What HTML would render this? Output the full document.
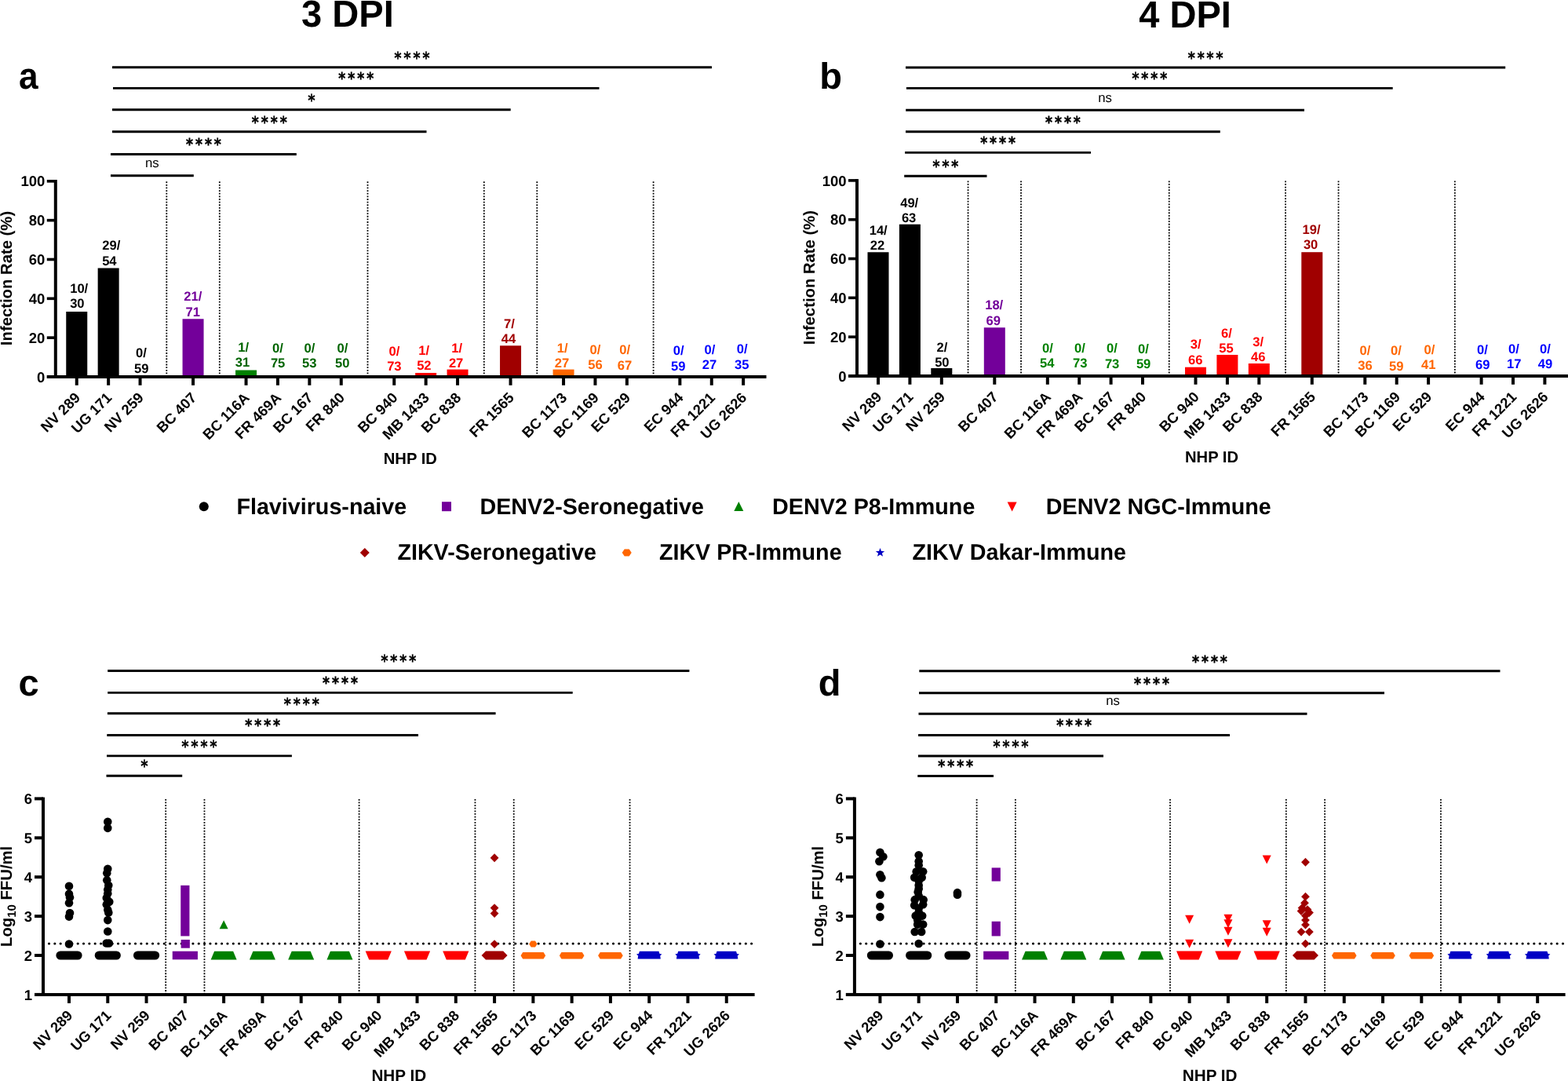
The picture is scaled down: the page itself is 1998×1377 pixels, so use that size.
<!DOCTYPE html>
<html><head><meta charset="utf-8"><style>
html,body{margin:0;padding:0;background:#fff;overflow:hidden;}
svg{display:block;}
text{font-family:'Liberation Sans', Arial, Helvetica, sans-serif;text-rendering:geometricPrecision;}
.ast{font-family:'DejaVu Sans Mono',monospace;}
</style></head><body>
<svg width="1998" height="1377" viewBox="0 0 1998 1377" font-family="'Liberation Sans', Arial, Helvetica, sans-serif" font-weight="700">
<rect width="1998" height="1377" fill="#fff"/>
<text x="0" y="0" font-size="48" text-anchor="middle" transform="translate(442.9 33.8) scale(0.98 1)">3 DPI</text>
<text x="0" y="0" font-size="48" text-anchor="middle" transform="translate(1510 34.9) scale(0.98 1)">4 DPI</text>
<text x="0" y="0" font-size="47.5" text-anchor="middle" transform="translate(36.4 113.3) scale(0.93 1)">a</text>
<text x="1058.5" y="113" font-size="47" text-anchor="middle">b</text>
<text x="36.5" y="886" font-size="47" text-anchor="middle">c</text>
<text x="1057" y="886" font-size="47" text-anchor="middle">d</text>
<line x1="143" y1="85.7" x2="907" y2="85.7" stroke="#000" stroke-width="2.9"/>
<text x="0" y="0" font-size="20.6" letter-spacing="1.74" text-anchor="middle" class="ast" stroke="#000" stroke-width="0.45" stroke-linejoin="round" transform="translate(525.75 80.5) scale(0.845 1)">****</text>
<line x1="144" y1="112.4" x2="763.5" y2="112.4" stroke="#000" stroke-width="2.9"/>
<text x="0" y="0" font-size="20.6" letter-spacing="1.74" text-anchor="middle" class="ast" stroke="#000" stroke-width="0.45" stroke-linejoin="round" transform="translate(454.5 107.2) scale(0.845 1)">****</text>
<line x1="143" y1="139.8" x2="650.7" y2="139.8" stroke="#000" stroke-width="2.9"/>
<text x="0" y="0" font-size="20.6" letter-spacing="1.74" text-anchor="middle" class="ast" stroke="#000" stroke-width="0.45" stroke-linejoin="round" transform="translate(397.6 134.6) scale(0.845 1)">*</text>
<line x1="143" y1="167.7" x2="543.5" y2="167.7" stroke="#000" stroke-width="2.9"/>
<text x="0" y="0" font-size="20.6" letter-spacing="1.74" text-anchor="middle" class="ast" stroke="#000" stroke-width="0.45" stroke-linejoin="round" transform="translate(344 162.5) scale(0.845 1)">****</text>
<line x1="141" y1="196.5" x2="377.8" y2="196.5" stroke="#000" stroke-width="2.9"/>
<text x="0" y="0" font-size="20.6" letter-spacing="1.74" text-anchor="middle" class="ast" stroke="#000" stroke-width="0.45" stroke-linejoin="round" transform="translate(260.15 191.3) scale(0.845 1)">****</text>
<line x1="141" y1="223.8" x2="246.8" y2="223.8" stroke="#000" stroke-width="2.9"/>
<text x="193.9" y="213" font-size="16.8" font-weight="400" text-anchor="middle">ns</text>
<line x1="1154" y1="86" x2="1918.2" y2="86" stroke="#000" stroke-width="2.9"/>
<text x="0" y="0" font-size="20.6" letter-spacing="1.74" text-anchor="middle" class="ast" stroke="#000" stroke-width="0.45" stroke-linejoin="round" transform="translate(1536.85 80.8) scale(0.845 1)">****</text>
<line x1="1154.9" y1="112.4" x2="1774.7" y2="112.4" stroke="#000" stroke-width="2.9"/>
<text x="0" y="0" font-size="20.6" letter-spacing="1.74" text-anchor="middle" class="ast" stroke="#000" stroke-width="0.45" stroke-linejoin="round" transform="translate(1465.55 107.2) scale(0.845 1)">****</text>
<line x1="1154.2" y1="140.3" x2="1662" y2="140.3" stroke="#000" stroke-width="2.9"/>
<text x="1408.1" y="129.5" font-size="16.8" font-weight="400" text-anchor="middle">ns</text>
<line x1="1154" y1="167.7" x2="1554.8" y2="167.7" stroke="#000" stroke-width="2.9"/>
<text x="0" y="0" font-size="20.6" letter-spacing="1.74" text-anchor="middle" class="ast" stroke="#000" stroke-width="0.45" stroke-linejoin="round" transform="translate(1355.15 162.5) scale(0.845 1)">****</text>
<line x1="1153.1" y1="194.4" x2="1390" y2="194.4" stroke="#000" stroke-width="2.9"/>
<text x="0" y="0" font-size="20.6" letter-spacing="1.74" text-anchor="middle" class="ast" stroke="#000" stroke-width="0.45" stroke-linejoin="round" transform="translate(1272.3 189.2) scale(0.845 1)">****</text>
<line x1="1152.2" y1="224.2" x2="1257.5" y2="224.2" stroke="#000" stroke-width="2.9"/>
<text x="0" y="0" font-size="20.6" letter-spacing="1.74" text-anchor="middle" class="ast" stroke="#000" stroke-width="0.45" stroke-linejoin="round" transform="translate(1205.6 219) scale(0.845 1)">***</text>
<line x1="137.2" y1="854.5" x2="878.4" y2="854.5" stroke="#000" stroke-width="2.9"/>
<text x="0" y="0" font-size="20.6" letter-spacing="1.74" text-anchor="middle" class="ast" stroke="#000" stroke-width="0.45" stroke-linejoin="round" transform="translate(508.55 849.3) scale(0.845 1)">****</text>
<line x1="137.2" y1="882.4" x2="729.7" y2="882.4" stroke="#000" stroke-width="2.9"/>
<text x="0" y="0" font-size="20.6" letter-spacing="1.74" text-anchor="middle" class="ast" stroke="#000" stroke-width="0.45" stroke-linejoin="round" transform="translate(434.2 877.2) scale(0.845 1)">****</text>
<line x1="136.9" y1="908.8" x2="631.6" y2="908.8" stroke="#000" stroke-width="2.9"/>
<text x="0" y="0" font-size="20.6" letter-spacing="1.74" text-anchor="middle" class="ast" stroke="#000" stroke-width="0.45" stroke-linejoin="round" transform="translate(385 903.6) scale(0.845 1)">****</text>
<line x1="136.3" y1="936.5" x2="533" y2="936.5" stroke="#000" stroke-width="2.9"/>
<text x="0" y="0" font-size="20.6" letter-spacing="1.74" text-anchor="middle" class="ast" stroke="#000" stroke-width="0.45" stroke-linejoin="round" transform="translate(335.4 931.3) scale(0.845 1)">****</text>
<line x1="136" y1="962.9" x2="371.9" y2="962.9" stroke="#000" stroke-width="2.9"/>
<text x="0" y="0" font-size="20.6" letter-spacing="1.74" text-anchor="middle" class="ast" stroke="#000" stroke-width="0.45" stroke-linejoin="round" transform="translate(254.7 957.7) scale(0.845 1)">****</text>
<line x1="135.5" y1="988.3" x2="232.2" y2="988.3" stroke="#000" stroke-width="2.9"/>
<text x="0" y="0" font-size="20.6" letter-spacing="1.74" text-anchor="middle" class="ast" stroke="#000" stroke-width="0.45" stroke-linejoin="round" transform="translate(184.6 983.1) scale(0.845 1)">*</text>
<line x1="1171.3" y1="854.8" x2="1911.5" y2="854.8" stroke="#000" stroke-width="2.9"/>
<text x="0" y="0" font-size="20.6" letter-spacing="1.74" text-anchor="middle" class="ast" stroke="#000" stroke-width="0.45" stroke-linejoin="round" transform="translate(1542.15 849.6) scale(0.845 1)">****</text>
<line x1="1171" y1="882.7" x2="1764" y2="882.7" stroke="#000" stroke-width="2.9"/>
<text x="0" y="0" font-size="20.6" letter-spacing="1.74" text-anchor="middle" class="ast" stroke="#000" stroke-width="0.45" stroke-linejoin="round" transform="translate(1468.25 877.5) scale(0.845 1)">****</text>
<line x1="1170.5" y1="909.2" x2="1665.5" y2="909.2" stroke="#000" stroke-width="2.9"/>
<text x="1418" y="898.4" font-size="16.8" font-weight="400" text-anchor="middle">ns</text>
<line x1="1170.1" y1="936.5" x2="1567" y2="936.5" stroke="#000" stroke-width="2.9"/>
<text x="0" y="0" font-size="20.6" letter-spacing="1.74" text-anchor="middle" class="ast" stroke="#000" stroke-width="0.45" stroke-linejoin="round" transform="translate(1369.3 931.3) scale(0.845 1)">****</text>
<line x1="1169.9" y1="963" x2="1406" y2="963" stroke="#000" stroke-width="2.9"/>
<text x="0" y="0" font-size="20.6" letter-spacing="1.74" text-anchor="middle" class="ast" stroke="#000" stroke-width="0.45" stroke-linejoin="round" transform="translate(1288.7 957.8) scale(0.845 1)">****</text>
<line x1="1169.3" y1="988.5" x2="1266" y2="988.5" stroke="#000" stroke-width="2.9"/>
<text x="0" y="0" font-size="20.6" letter-spacing="1.74" text-anchor="middle" class="ast" stroke="#000" stroke-width="0.45" stroke-linejoin="round" transform="translate(1218.4 983.3) scale(0.845 1)">****</text>
<line x1="212.3" y1="231.3" x2="212.3" y2="478" stroke="#000" stroke-width="1.8" stroke-dasharray="1.8 1.83"/>
<line x1="279.8" y1="231.3" x2="279.8" y2="478" stroke="#000" stroke-width="1.8" stroke-dasharray="1.8 1.83"/>
<line x1="468.5" y1="231.3" x2="468.5" y2="478" stroke="#000" stroke-width="1.8" stroke-dasharray="1.8 1.83"/>
<line x1="616.8" y1="231.3" x2="616.8" y2="478" stroke="#000" stroke-width="1.8" stroke-dasharray="1.8 1.83"/>
<line x1="684.3" y1="231.3" x2="684.3" y2="478" stroke="#000" stroke-width="1.8" stroke-dasharray="1.8 1.83"/>
<line x1="832.6" y1="231.3" x2="832.6" y2="478" stroke="#000" stroke-width="1.8" stroke-dasharray="1.8 1.83"/>
<rect x="84.25" y="397" width="27" height="83" fill="#000000"/>
<rect x="124.65" y="341.5" width="27" height="138.5" fill="#000000"/>
<rect x="232.55" y="406.25" width="27" height="73.75" fill="#73009a"/>
<rect x="300.05" y="471.5" width="27" height="8.5" fill="#008000"/>
<rect x="529.15" y="475" width="27" height="5" fill="#ff0000"/>
<rect x="569.55" y="470.6" width="27" height="9.4" fill="#ff0000"/>
<rect x="637.05" y="440.3" width="27" height="39.7" fill="#a00000"/>
<rect x="704.55" y="470.6" width="27" height="9.4" fill="#ff6600"/>
<line x1="70.8" y1="229" x2="70.8" y2="480" stroke="#000" stroke-width="4"/>
<line x1="59.8" y1="480" x2="976.5" y2="480" stroke="#000" stroke-width="3.9"/>
<line x1="59.8" y1="480" x2="70.8" y2="480" stroke="#000" stroke-width="3.6"/>
<text x="57.3" y="486.6" font-size="18.5" text-anchor="end">0</text>
<line x1="59.8" y1="430.16" x2="70.8" y2="430.16" stroke="#000" stroke-width="3.6"/>
<text x="57.3" y="436.76" font-size="18.5" text-anchor="end">20</text>
<line x1="59.8" y1="380.32" x2="70.8" y2="380.32" stroke="#000" stroke-width="3.6"/>
<text x="57.3" y="386.92" font-size="18.5" text-anchor="end">40</text>
<line x1="59.8" y1="330.48" x2="70.8" y2="330.48" stroke="#000" stroke-width="3.6"/>
<text x="57.3" y="337.08" font-size="18.5" text-anchor="end">60</text>
<line x1="59.8" y1="280.64" x2="70.8" y2="280.64" stroke="#000" stroke-width="3.6"/>
<text x="57.3" y="287.24" font-size="18.5" text-anchor="end">80</text>
<line x1="59.8" y1="230.8" x2="70.8" y2="230.8" stroke="#000" stroke-width="3.6"/>
<text x="57.3" y="237.4" font-size="18.5" text-anchor="end">100</text>
<line x1="97.75" y1="480" x2="97.75" y2="490.8" stroke="#000" stroke-width="4"/>
<text x="103.25" y="507.8" font-size="18.5" text-anchor="end" transform="rotate(-45 103.25 507.8)">NV 289</text>
<line x1="138.15" y1="480" x2="138.15" y2="490.8" stroke="#000" stroke-width="4"/>
<text x="143.65" y="507.8" font-size="18.5" text-anchor="end" transform="rotate(-45 143.65 507.8)">UG 171</text>
<line x1="178.55" y1="480" x2="178.55" y2="490.8" stroke="#000" stroke-width="4"/>
<text x="184.05" y="507.8" font-size="18.5" text-anchor="end" transform="rotate(-45 184.05 507.8)">NV 259</text>
<line x1="246.05" y1="480" x2="246.05" y2="490.8" stroke="#000" stroke-width="4"/>
<text x="251.55" y="507.8" font-size="18.5" text-anchor="end" transform="rotate(-45 251.55 507.8)">BC 407</text>
<line x1="313.55" y1="480" x2="313.55" y2="490.8" stroke="#000" stroke-width="4"/>
<text x="319.05" y="507.8" font-size="18.5" text-anchor="end" transform="rotate(-45 319.05 507.8)">BC 116A</text>
<line x1="353.95" y1="480" x2="353.95" y2="490.8" stroke="#000" stroke-width="4"/>
<text x="359.45" y="507.8" font-size="18.5" text-anchor="end" transform="rotate(-45 359.45 507.8)">FR 469A</text>
<line x1="394.35" y1="480" x2="394.35" y2="490.8" stroke="#000" stroke-width="4"/>
<text x="399.85" y="507.8" font-size="18.5" text-anchor="end" transform="rotate(-45 399.85 507.8)">BC 167</text>
<line x1="434.75" y1="480" x2="434.75" y2="490.8" stroke="#000" stroke-width="4"/>
<text x="440.25" y="507.8" font-size="18.5" text-anchor="end" transform="rotate(-45 440.25 507.8)">FR 840</text>
<line x1="502.25" y1="480" x2="502.25" y2="490.8" stroke="#000" stroke-width="4"/>
<text x="507.75" y="507.8" font-size="18.5" text-anchor="end" transform="rotate(-45 507.75 507.8)">BC 940</text>
<line x1="542.65" y1="480" x2="542.65" y2="490.8" stroke="#000" stroke-width="4"/>
<text x="548.15" y="507.8" font-size="18.5" text-anchor="end" transform="rotate(-45 548.15 507.8)">MB 1433</text>
<line x1="583.05" y1="480" x2="583.05" y2="490.8" stroke="#000" stroke-width="4"/>
<text x="588.55" y="507.8" font-size="18.5" text-anchor="end" transform="rotate(-45 588.55 507.8)">BC 838</text>
<line x1="650.55" y1="480" x2="650.55" y2="490.8" stroke="#000" stroke-width="4"/>
<text x="656.05" y="507.8" font-size="18.5" text-anchor="end" transform="rotate(-45 656.05 507.8)">FR 1565</text>
<line x1="718.05" y1="480" x2="718.05" y2="490.8" stroke="#000" stroke-width="4"/>
<text x="723.55" y="507.8" font-size="18.5" text-anchor="end" transform="rotate(-45 723.55 507.8)">BC 1173</text>
<line x1="758.45" y1="480" x2="758.45" y2="490.8" stroke="#000" stroke-width="4"/>
<text x="763.95" y="507.8" font-size="18.5" text-anchor="end" transform="rotate(-45 763.95 507.8)">BC 1169</text>
<line x1="798.85" y1="480" x2="798.85" y2="490.8" stroke="#000" stroke-width="4"/>
<text x="804.35" y="507.8" font-size="18.5" text-anchor="end" transform="rotate(-45 804.35 507.8)">EC 529</text>
<line x1="866.35" y1="480" x2="866.35" y2="490.8" stroke="#000" stroke-width="4"/>
<text x="871.85" y="507.8" font-size="18.5" text-anchor="end" transform="rotate(-45 871.85 507.8)">EC 944</text>
<line x1="906.75" y1="480" x2="906.75" y2="490.8" stroke="#000" stroke-width="4"/>
<text x="912.25" y="507.8" font-size="18.5" text-anchor="end" transform="rotate(-45 912.25 507.8)">FR 1221</text>
<line x1="947.15" y1="480" x2="947.15" y2="490.8" stroke="#000" stroke-width="4"/>
<text x="952.65" y="507.8" font-size="18.5" text-anchor="end" transform="rotate(-45 952.65 507.8)">UG 2626</text>
<text x="100.7" y="372.5" font-size="16.6" text-anchor="middle" fill="#000000">10/</text>
<text x="98.37" y="391.8" font-size="16.6" text-anchor="middle" fill="#000000">30</text>
<text x="141.8" y="318.4" font-size="16.6" text-anchor="middle" fill="#000000">29/</text>
<text x="139.37" y="337.7" font-size="16.6" text-anchor="middle" fill="#000000">54</text>
<text x="180.04" y="455.3" font-size="16.6" text-anchor="middle" fill="#000000">0/</text>
<text x="180.32" y="474.6" font-size="16.6" text-anchor="middle" fill="#000000">59</text>
<text x="245.85" y="383.2" font-size="16.6" text-anchor="middle" fill="#73009a">21/</text>
<text x="245.67" y="402.5" font-size="16.6" text-anchor="middle" fill="#73009a">71</text>
<text x="310.19" y="447.9" font-size="16.6" text-anchor="middle" fill="#006400">1/</text>
<text x="309.02" y="467.2" font-size="16.6" text-anchor="middle" fill="#006400">31</text>
<text x="353.99" y="448.7" font-size="16.6" text-anchor="middle" fill="#006400">0/</text>
<text x="354.12" y="468" font-size="16.6" text-anchor="middle" fill="#006400">75</text>
<text x="394.39" y="448.7" font-size="16.6" text-anchor="middle" fill="#006400">0/</text>
<text x="394.32" y="468" font-size="16.6" text-anchor="middle" fill="#006400">53</text>
<text x="436.39" y="448.7" font-size="16.6" text-anchor="middle" fill="#006400">0/</text>
<text x="436.22" y="468" font-size="16.6" text-anchor="middle" fill="#006400">50</text>
<text x="502.54" y="452.7" font-size="16.6" text-anchor="middle" fill="#ff0000">0/</text>
<text x="502.37" y="472" font-size="16.6" text-anchor="middle" fill="#ff0000">73</text>
<text x="540.14" y="451.7" font-size="16.6" text-anchor="middle" fill="#ff0000">1/</text>
<text x="540.37" y="471" font-size="16.6" text-anchor="middle" fill="#ff0000">52</text>
<text x="582.19" y="448.5" font-size="16.6" text-anchor="middle" fill="#ff0000">1/</text>
<text x="581.12" y="467.8" font-size="16.6" text-anchor="middle" fill="#ff0000">27</text>
<text x="648.94" y="417.5" font-size="16.6" text-anchor="middle" fill="#a00000">7/</text>
<text x="647.97" y="436.8" font-size="16.6" text-anchor="middle" fill="#a00000">44</text>
<text x="716.59" y="449" font-size="16.6" text-anchor="middle" fill="#ff6600">1/</text>
<text x="715.97" y="468.3" font-size="16.6" text-anchor="middle" fill="#ff6600">27</text>
<text x="758.54" y="451" font-size="16.6" text-anchor="middle" fill="#ff6600">0/</text>
<text x="758.42" y="470.3" font-size="16.6" text-anchor="middle" fill="#ff6600">56</text>
<text x="796.14" y="451.3" font-size="16.6" text-anchor="middle" fill="#ff6600">0/</text>
<text x="796.07" y="470.6" font-size="16.6" text-anchor="middle" fill="#ff6600">67</text>
<text x="864.64" y="452.2" font-size="16.6" text-anchor="middle" fill="#0000ff">0/</text>
<text x="864.32" y="471.5" font-size="16.6" text-anchor="middle" fill="#0000ff">59</text>
<text x="904.49" y="451" font-size="16.6" text-anchor="middle" fill="#0000ff">0/</text>
<text x="904.02" y="470.3" font-size="16.6" text-anchor="middle" fill="#0000ff">27</text>
<text x="945.79" y="450.3" font-size="16.6" text-anchor="middle" fill="#0000ff">0/</text>
<text x="945.17" y="469.6" font-size="16.6" text-anchor="middle" fill="#0000ff">35</text>
<text x="522.8" y="591" font-size="20.2" text-anchor="middle">NHP ID</text>
<text x="14.9" y="354.5" font-size="20.3" text-anchor="middle" transform="rotate(-90 14.9 354.5)">Infection Rate (%)</text>
<line x1="1233.55" y1="230.4" x2="1233.55" y2="477" stroke="#000" stroke-width="1.8" stroke-dasharray="1.8 1.83"/>
<line x1="1301.05" y1="230.4" x2="1301.05" y2="477" stroke="#000" stroke-width="1.8" stroke-dasharray="1.8 1.83"/>
<line x1="1489.75" y1="230.4" x2="1489.75" y2="477" stroke="#000" stroke-width="1.8" stroke-dasharray="1.8 1.83"/>
<line x1="1638.05" y1="230.4" x2="1638.05" y2="477" stroke="#000" stroke-width="1.8" stroke-dasharray="1.8 1.83"/>
<line x1="1705.55" y1="230.4" x2="1705.55" y2="477" stroke="#000" stroke-width="1.8" stroke-dasharray="1.8 1.83"/>
<line x1="1853.85" y1="230.4" x2="1853.85" y2="477" stroke="#000" stroke-width="1.8" stroke-dasharray="1.8 1.83"/>
<rect x="1105.5" y="321.25" width="27" height="157.75" fill="#000000"/>
<rect x="1145.9" y="285.75" width="27" height="193.25" fill="#000000"/>
<rect x="1186.3" y="469" width="27" height="10" fill="#000000"/>
<rect x="1253.8" y="417.25" width="27" height="61.75" fill="#73009a"/>
<rect x="1510" y="467.7" width="27" height="11.3" fill="#ff0000"/>
<rect x="1550.4" y="452" width="27" height="27" fill="#ff0000"/>
<rect x="1590.8" y="463" width="27" height="16" fill="#ff0000"/>
<rect x="1658.3" y="321.2" width="27" height="157.8" fill="#a00000"/>
<line x1="1092" y1="228.1" x2="1092" y2="479" stroke="#000" stroke-width="4"/>
<line x1="1081" y1="479" x2="1998" y2="479" stroke="#000" stroke-width="3.9"/>
<line x1="1081" y1="479" x2="1092" y2="479" stroke="#000" stroke-width="3.6"/>
<text x="1078.5" y="485.6" font-size="18.5" text-anchor="end">0</text>
<line x1="1081" y1="429.18" x2="1092" y2="429.18" stroke="#000" stroke-width="3.6"/>
<text x="1078.5" y="435.78" font-size="18.5" text-anchor="end">20</text>
<line x1="1081" y1="379.36" x2="1092" y2="379.36" stroke="#000" stroke-width="3.6"/>
<text x="1078.5" y="385.96" font-size="18.5" text-anchor="end">40</text>
<line x1="1081" y1="329.54" x2="1092" y2="329.54" stroke="#000" stroke-width="3.6"/>
<text x="1078.5" y="336.14" font-size="18.5" text-anchor="end">60</text>
<line x1="1081" y1="279.72" x2="1092" y2="279.72" stroke="#000" stroke-width="3.6"/>
<text x="1078.5" y="286.32" font-size="18.5" text-anchor="end">80</text>
<line x1="1081" y1="229.9" x2="1092" y2="229.9" stroke="#000" stroke-width="3.6"/>
<text x="1078.5" y="236.5" font-size="18.5" text-anchor="end">100</text>
<line x1="1119" y1="479" x2="1119" y2="489.8" stroke="#000" stroke-width="4"/>
<text x="1124.5" y="506.8" font-size="18.5" text-anchor="end" transform="rotate(-45 1124.5 506.8)">NV 289</text>
<line x1="1159.4" y1="479" x2="1159.4" y2="489.8" stroke="#000" stroke-width="4"/>
<text x="1164.9" y="506.8" font-size="18.5" text-anchor="end" transform="rotate(-45 1164.9 506.8)">UG 171</text>
<line x1="1199.8" y1="479" x2="1199.8" y2="489.8" stroke="#000" stroke-width="4"/>
<text x="1205.3" y="506.8" font-size="18.5" text-anchor="end" transform="rotate(-45 1205.3 506.8)">NV 259</text>
<line x1="1267.3" y1="479" x2="1267.3" y2="489.8" stroke="#000" stroke-width="4"/>
<text x="1272.8" y="506.8" font-size="18.5" text-anchor="end" transform="rotate(-45 1272.8 506.8)">BC 407</text>
<line x1="1334.8" y1="479" x2="1334.8" y2="489.8" stroke="#000" stroke-width="4"/>
<text x="1340.3" y="506.8" font-size="18.5" text-anchor="end" transform="rotate(-45 1340.3 506.8)">BC 116A</text>
<line x1="1375.2" y1="479" x2="1375.2" y2="489.8" stroke="#000" stroke-width="4"/>
<text x="1380.7" y="506.8" font-size="18.5" text-anchor="end" transform="rotate(-45 1380.7 506.8)">FR 469A</text>
<line x1="1415.6" y1="479" x2="1415.6" y2="489.8" stroke="#000" stroke-width="4"/>
<text x="1421.1" y="506.8" font-size="18.5" text-anchor="end" transform="rotate(-45 1421.1 506.8)">BC 167</text>
<line x1="1456" y1="479" x2="1456" y2="489.8" stroke="#000" stroke-width="4"/>
<text x="1461.5" y="506.8" font-size="18.5" text-anchor="end" transform="rotate(-45 1461.5 506.8)">FR 840</text>
<line x1="1523.5" y1="479" x2="1523.5" y2="489.8" stroke="#000" stroke-width="4"/>
<text x="1529" y="506.8" font-size="18.5" text-anchor="end" transform="rotate(-45 1529 506.8)">BC 940</text>
<line x1="1563.9" y1="479" x2="1563.9" y2="489.8" stroke="#000" stroke-width="4"/>
<text x="1569.4" y="506.8" font-size="18.5" text-anchor="end" transform="rotate(-45 1569.4 506.8)">MB 1433</text>
<line x1="1604.3" y1="479" x2="1604.3" y2="489.8" stroke="#000" stroke-width="4"/>
<text x="1609.8" y="506.8" font-size="18.5" text-anchor="end" transform="rotate(-45 1609.8 506.8)">BC 838</text>
<line x1="1671.8" y1="479" x2="1671.8" y2="489.8" stroke="#000" stroke-width="4"/>
<text x="1677.3" y="506.8" font-size="18.5" text-anchor="end" transform="rotate(-45 1677.3 506.8)">FR 1565</text>
<line x1="1739.3" y1="479" x2="1739.3" y2="489.8" stroke="#000" stroke-width="4"/>
<text x="1744.8" y="506.8" font-size="18.5" text-anchor="end" transform="rotate(-45 1744.8 506.8)">BC 1173</text>
<line x1="1779.7" y1="479" x2="1779.7" y2="489.8" stroke="#000" stroke-width="4"/>
<text x="1785.2" y="506.8" font-size="18.5" text-anchor="end" transform="rotate(-45 1785.2 506.8)">BC 1169</text>
<line x1="1820.1" y1="479" x2="1820.1" y2="489.8" stroke="#000" stroke-width="4"/>
<text x="1825.6" y="506.8" font-size="18.5" text-anchor="end" transform="rotate(-45 1825.6 506.8)">EC 529</text>
<line x1="1887.6" y1="479" x2="1887.6" y2="489.8" stroke="#000" stroke-width="4"/>
<text x="1893.1" y="506.8" font-size="18.5" text-anchor="end" transform="rotate(-45 1893.1 506.8)">EC 944</text>
<line x1="1928" y1="479" x2="1928" y2="489.8" stroke="#000" stroke-width="4"/>
<text x="1933.5" y="506.8" font-size="18.5" text-anchor="end" transform="rotate(-45 1933.5 506.8)">FR 1221</text>
<line x1="1968.4" y1="479" x2="1968.4" y2="489.8" stroke="#000" stroke-width="4"/>
<text x="1973.9" y="506.8" font-size="18.5" text-anchor="end" transform="rotate(-45 1973.9 506.8)">UG 2626</text>
<text x="1119.2" y="298.7" font-size="16.6" text-anchor="middle" fill="#000000">14/</text>
<text x="1118.02" y="318" font-size="16.6" text-anchor="middle" fill="#000000">22</text>
<text x="1158.7" y="263.6" font-size="16.6" text-anchor="middle" fill="#000000">49/</text>
<text x="1158.12" y="282.9" font-size="16.6" text-anchor="middle" fill="#000000">63</text>
<text x="1200.44" y="448" font-size="16.6" text-anchor="middle" fill="#000000">2/</text>
<text x="1200.37" y="467.3" font-size="16.6" text-anchor="middle" fill="#000000">50</text>
<text x="1266.7" y="394.3" font-size="16.6" text-anchor="middle" fill="#73009a">18/</text>
<text x="1265.82" y="413.6" font-size="16.6" text-anchor="middle" fill="#73009a">69</text>
<text x="1334.94" y="448.9" font-size="16.6" text-anchor="middle" fill="#008000">0/</text>
<text x="1334.22" y="468.2" font-size="16.6" text-anchor="middle" fill="#008000">54</text>
<text x="1376.04" y="449.1" font-size="16.6" text-anchor="middle" fill="#008000">0/</text>
<text x="1376.27" y="468.4" font-size="16.6" text-anchor="middle" fill="#008000">73</text>
<text x="1416.89" y="449.3" font-size="16.6" text-anchor="middle" fill="#008000">0/</text>
<text x="1417.12" y="468.6" font-size="16.6" text-anchor="middle" fill="#008000">73</text>
<text x="1456.89" y="450.1" font-size="16.6" text-anchor="middle" fill="#008000">0/</text>
<text x="1457.12" y="469.4" font-size="16.6" text-anchor="middle" fill="#008000">59</text>
<text x="1523.79" y="444.2" font-size="16.6" text-anchor="middle" fill="#ff0000">3/</text>
<text x="1523.32" y="463.5" font-size="16.6" text-anchor="middle" fill="#ff0000">66</text>
<text x="1562.94" y="429.9" font-size="16.6" text-anchor="middle" fill="#ff0000">6/</text>
<text x="1562.52" y="449.2" font-size="16.6" text-anchor="middle" fill="#ff0000">55</text>
<text x="1603.19" y="441" font-size="16.6" text-anchor="middle" fill="#ff0000">3/</text>
<text x="1603.17" y="460.3" font-size="16.6" text-anchor="middle" fill="#ff0000">46</text>
<text x="1671.05" y="297.9" font-size="16.6" text-anchor="middle" fill="#a00000">19/</text>
<text x="1670.12" y="317.2" font-size="16.6" text-anchor="middle" fill="#a00000">30</text>
<text x="1739.49" y="451.9" font-size="16.6" text-anchor="middle" fill="#ff6600">0/</text>
<text x="1739.57" y="471.2" font-size="16.6" text-anchor="middle" fill="#ff6600">36</text>
<text x="1778.99" y="452.4" font-size="16.6" text-anchor="middle" fill="#ff6600">0/</text>
<text x="1779.32" y="471.7" font-size="16.6" text-anchor="middle" fill="#ff6600">59</text>
<text x="1821.44" y="451.1" font-size="16.6" text-anchor="middle" fill="#ff6600">0/</text>
<text x="1820.32" y="470.4" font-size="16.6" text-anchor="middle" fill="#ff6600">41</text>
<text x="1888.99" y="451" font-size="16.6" text-anchor="middle" fill="#0000ff">0/</text>
<text x="1889.32" y="470.3" font-size="16.6" text-anchor="middle" fill="#0000ff">69</text>
<text x="1928.99" y="449.8" font-size="16.6" text-anchor="middle" fill="#0000ff">0/</text>
<text x="1929.32" y="469.1" font-size="16.6" text-anchor="middle" fill="#0000ff">17</text>
<text x="1968.99" y="449.8" font-size="16.6" text-anchor="middle" fill="#0000ff">0/</text>
<text x="1969.02" y="469.1" font-size="16.6" text-anchor="middle" fill="#0000ff">49</text>
<text x="1544" y="589" font-size="20.2" text-anchor="middle">NHP ID</text>
<text x="1037.8" y="353.55" font-size="20.3" text-anchor="middle" transform="rotate(-90 1037.8 353.55)">Infection Rate (%)</text>
<circle cx="259.8" cy="645.2" r="6" fill="#000000"/>
<text x="301.4" y="654.8" font-size="28.7" text-anchor="start">Flavivirus-naive</text>
<rect x="563" y="639.2" width="12" height="12" fill="#73009a"/>
<text x="611.5" y="654.8" font-size="28.7" text-anchor="start">DENV2-Seronegative</text>
<polygon points="941.3,639 947.3,650.9 935.3,650.9" fill="#008000"/>
<text x="984.1" y="654.8" font-size="28.7" text-anchor="start">DENV2 P8-Immune</text>
<polygon points="1289.6,651.4 1295.6,639.5 1283.6,639.5" fill="#ff0000"/>
<text x="1332.8" y="654.8" font-size="28.7" text-anchor="start">DENV2 NGC-Immune</text>
<polygon points="464.8,698 470.8,704 464.8,710 458.8,704" fill="#a00000"/>
<text x="506.4" y="713" font-size="28.7" text-anchor="start">ZIKV-Seronegative</text>
<polygon points="804.7,704 801.7,708.52 795.7,708.52 792.7,704 795.7,699.48 801.7,699.48" fill="#ff6600"/>
<text x="839.9" y="713" font-size="28.7" text-anchor="start">ZIKV PR-Immune</text>
<polygon points="1121.5,698 1122.98,701.96 1127.21,702.15 1123.9,704.78 1125.03,708.85 1121.5,706.52 1117.97,708.85 1119.1,704.78 1115.79,702.15 1120.02,701.96" fill="#0000c4"/>
<text x="1162.4" y="713" font-size="28.7" text-anchor="start">ZIKV Dakar-Immune</text>
<line x1="211.2" y1="1017.9" x2="211.2" y2="1264.9" stroke="#000" stroke-width="1.8" stroke-dasharray="1.8 1.83"/>
<line x1="260.48" y1="1017.9" x2="260.48" y2="1264.9" stroke="#000" stroke-width="1.8" stroke-dasharray="1.8 1.83"/>
<line x1="457.6" y1="1017.9" x2="457.6" y2="1264.9" stroke="#000" stroke-width="1.8" stroke-dasharray="1.8 1.83"/>
<line x1="605.44" y1="1017.9" x2="605.44" y2="1264.9" stroke="#000" stroke-width="1.8" stroke-dasharray="1.8 1.83"/>
<line x1="654.72" y1="1017.9" x2="654.72" y2="1264.9" stroke="#000" stroke-width="1.8" stroke-dasharray="1.8 1.83"/>
<line x1="802.56" y1="1017.9" x2="802.56" y2="1264.9" stroke="#000" stroke-width="1.8" stroke-dasharray="1.8 1.83"/>
<line x1="62.5" y1="1201.98" x2="958.6" y2="1201.98" stroke="#000" stroke-width="3.2" stroke-dasharray="0 7.337" stroke-linecap="round"/>
<rect x="71.4" y="1211.5" width="33.2" height="11" rx="5.5" fill="#000000"/>
<circle cx="88" cy="1128.68" r="5.3" fill="#000000"/>
<circle cx="88" cy="1138.66" r="5.3" fill="#000000"/>
<circle cx="89" cy="1143.15" r="5.3" fill="#000000"/>
<circle cx="88" cy="1150.13" r="5.3" fill="#000000"/>
<circle cx="89" cy="1163.11" r="5.3" fill="#000000"/>
<circle cx="88" cy="1167.6" r="5.3" fill="#000000"/>
<circle cx="88" cy="1202.53" r="5.3" fill="#000000"/>
<rect x="120.68" y="1211.5" width="33.2" height="11" rx="5.5" fill="#000000"/>
<circle cx="137.28" cy="1046.84" r="5.3" fill="#000000"/>
<circle cx="137.28" cy="1054.83" r="5.3" fill="#000000"/>
<circle cx="137.28" cy="1106.72" r="5.3" fill="#000000"/>
<circle cx="136.28" cy="1112.21" r="5.3" fill="#000000"/>
<circle cx="136.28" cy="1121.19" r="5.3" fill="#000000"/>
<circle cx="138.28" cy="1127.68" r="5.3" fill="#000000"/>
<circle cx="137.28" cy="1133.17" r="5.3" fill="#000000"/>
<circle cx="137.28" cy="1138.16" r="5.3" fill="#000000"/>
<circle cx="135.78" cy="1143.65" r="5.3" fill="#000000"/>
<circle cx="139.28" cy="1148.64" r="5.3" fill="#000000"/>
<circle cx="135.78" cy="1152.13" r="5.3" fill="#000000"/>
<circle cx="137.28" cy="1159.12" r="5.3" fill="#000000"/>
<circle cx="138.28" cy="1162.61" r="5.3" fill="#000000"/>
<circle cx="137.28" cy="1172.09" r="5.3" fill="#000000"/>
<circle cx="137.28" cy="1186.56" r="5.3" fill="#000000"/>
<circle cx="135.68" cy="1201.53" r="5.3" fill="#000000"/>
<circle cx="138.88" cy="1201.53" r="5.3" fill="#000000"/>
<rect x="169.96" y="1211.5" width="33.2" height="11" rx="5.5" fill="#000000"/>
<rect x="219.74" y="1211.7" width="32.2" height="10.6" fill="#73009a"/>
<rect x="230.24" y="1127.82" width="11.2" height="64.59" fill="#73009a"/>
<rect x="230.64" y="1196.98" width="11.2" height="10.7" fill="#73009a"/>
<polygon points="273.12,1211.7 297.12,1211.7 301.62,1222.4 268.62,1222.4" fill="#008000"/>
<polygon points="285.12,1172.35 290.62,1183.3 279.62,1183.3" fill="#008000"/>
<polygon points="322.4,1211.7 346.4,1211.7 350.9,1222.4 317.9,1222.4" fill="#008000"/>
<polygon points="371.68,1211.7 395.68,1211.7 400.18,1222.4 367.18,1222.4" fill="#008000"/>
<polygon points="420.96,1211.7 444.96,1211.7 449.46,1222.4 416.46,1222.4" fill="#008000"/>
<polygon points="465.64,1211.6 498.84,1211.6 494.24,1222.4 470.24,1222.4" fill="#ff0000"/>
<polygon points="514.92,1211.6 548.12,1211.6 543.52,1222.4 519.52,1222.4" fill="#ff0000"/>
<polygon points="564.2,1211.6 597.4,1211.6 592.8,1222.4 568.8,1222.4" fill="#ff0000"/>
<polygon points="613.58,1217 618.98,1211.6 641.18,1211.6 646.58,1217 641.18,1222.4 618.98,1222.4" fill="#a00000"/>
<polygon points="630.08,1087.35 635.48,1092.75 630.08,1098.15 624.68,1092.75" fill="#a00000"/>
<polygon points="630.08,1151.22 635.48,1156.62 630.08,1162.02 624.68,1156.62" fill="#a00000"/>
<polygon points="630.08,1158.21 635.48,1163.61 630.08,1169.01 624.68,1163.61" fill="#a00000"/>
<polygon points="630.08,1197.13 635.48,1202.53 630.08,1207.93 624.68,1202.53" fill="#a00000"/>
<polygon points="663.56,1217.3 666.16,1212.9 692.56,1212.9 695.16,1217.3 692.56,1221.6 666.16,1221.6" fill="#ff6600"/>
<polygon points="684.56,1202.53 681.96,1206.45 676.76,1206.45 674.16,1202.53 676.76,1198.61 681.96,1198.61" fill="#ff6600"/>
<polygon points="712.84,1217.3 715.44,1212.9 741.84,1212.9 744.44,1217.3 741.84,1221.6 715.44,1221.6" fill="#ff6600"/>
<polygon points="762.12,1217.3 764.72,1212.9 791.12,1212.9 793.72,1217.3 791.12,1221.6 764.72,1221.6" fill="#ff6600"/>
<polygon points="814.9,1211.8 839.5,1211.8 840.4,1214.7 843.4,1215.6 841.2,1217.6 841.8,1221.6 812.6,1221.6 813.2,1217.6 811,1215.6 814,1214.7" fill="#0000c4"/>
<polygon points="864.18,1211.8 888.78,1211.8 889.68,1214.7 892.68,1215.6 890.48,1217.6 891.08,1221.6 861.88,1221.6 862.48,1217.6 860.28,1215.6 863.28,1214.7" fill="#0000c4"/>
<polygon points="913.46,1211.8 938.06,1211.8 938.96,1214.7 941.96,1215.6 939.76,1217.6 940.36,1221.6 911.16,1221.6 911.76,1217.6 909.56,1215.6 912.56,1214.7" fill="#0000c4"/>
<line x1="55" y1="1015.6" x2="55" y2="1266.9" stroke="#000" stroke-width="4"/>
<line x1="44" y1="1266.9" x2="961.6" y2="1266.9" stroke="#000" stroke-width="4"/>
<line x1="44" y1="1266.9" x2="55" y2="1266.9" stroke="#000" stroke-width="4"/>
<text x="41" y="1273.5" font-size="18.5" text-anchor="end">1</text>
<line x1="44" y1="1217" x2="55" y2="1217" stroke="#000" stroke-width="4"/>
<text x="41" y="1223.6" font-size="18.5" text-anchor="end">2</text>
<line x1="44" y1="1167.1" x2="55" y2="1167.1" stroke="#000" stroke-width="4"/>
<text x="41" y="1173.7" font-size="18.5" text-anchor="end">3</text>
<line x1="44" y1="1117.2" x2="55" y2="1117.2" stroke="#000" stroke-width="4"/>
<text x="41" y="1123.8" font-size="18.5" text-anchor="end">4</text>
<line x1="44" y1="1067.3" x2="55" y2="1067.3" stroke="#000" stroke-width="4"/>
<text x="41" y="1073.9" font-size="18.5" text-anchor="end">5</text>
<line x1="44" y1="1017.4" x2="55" y2="1017.4" stroke="#000" stroke-width="4"/>
<text x="41" y="1024" font-size="18.5" text-anchor="end">6</text>
<line x1="88" y1="1266.9" x2="88" y2="1277.9" stroke="#000" stroke-width="4"/>
<text x="93.5" y="1294.6" font-size="18.5" text-anchor="end" transform="rotate(-45 93.5 1294.6)">NV 289</text>
<line x1="137.28" y1="1266.9" x2="137.28" y2="1277.9" stroke="#000" stroke-width="4"/>
<text x="142.78" y="1294.6" font-size="18.5" text-anchor="end" transform="rotate(-45 142.78 1294.6)">UG 171</text>
<line x1="186.56" y1="1266.9" x2="186.56" y2="1277.9" stroke="#000" stroke-width="4"/>
<text x="192.06" y="1294.6" font-size="18.5" text-anchor="end" transform="rotate(-45 192.06 1294.6)">NV 259</text>
<line x1="235.84" y1="1266.9" x2="235.84" y2="1277.9" stroke="#000" stroke-width="4"/>
<text x="241.34" y="1294.6" font-size="18.5" text-anchor="end" transform="rotate(-45 241.34 1294.6)">BC 407</text>
<line x1="285.12" y1="1266.9" x2="285.12" y2="1277.9" stroke="#000" stroke-width="4"/>
<text x="290.62" y="1294.6" font-size="18.5" text-anchor="end" transform="rotate(-45 290.62 1294.6)">BC 116A</text>
<line x1="334.4" y1="1266.9" x2="334.4" y2="1277.9" stroke="#000" stroke-width="4"/>
<text x="339.9" y="1294.6" font-size="18.5" text-anchor="end" transform="rotate(-45 339.9 1294.6)">FR 469A</text>
<line x1="383.68" y1="1266.9" x2="383.68" y2="1277.9" stroke="#000" stroke-width="4"/>
<text x="389.18" y="1294.6" font-size="18.5" text-anchor="end" transform="rotate(-45 389.18 1294.6)">BC 167</text>
<line x1="432.96" y1="1266.9" x2="432.96" y2="1277.9" stroke="#000" stroke-width="4"/>
<text x="438.46" y="1294.6" font-size="18.5" text-anchor="end" transform="rotate(-45 438.46 1294.6)">FR 840</text>
<line x1="482.24" y1="1266.9" x2="482.24" y2="1277.9" stroke="#000" stroke-width="4"/>
<text x="487.74" y="1294.6" font-size="18.5" text-anchor="end" transform="rotate(-45 487.74 1294.6)">BC 940</text>
<line x1="531.52" y1="1266.9" x2="531.52" y2="1277.9" stroke="#000" stroke-width="4"/>
<text x="537.02" y="1294.6" font-size="18.5" text-anchor="end" transform="rotate(-45 537.02 1294.6)">MB 1433</text>
<line x1="580.8" y1="1266.9" x2="580.8" y2="1277.9" stroke="#000" stroke-width="4"/>
<text x="586.3" y="1294.6" font-size="18.5" text-anchor="end" transform="rotate(-45 586.3 1294.6)">BC 838</text>
<line x1="630.08" y1="1266.9" x2="630.08" y2="1277.9" stroke="#000" stroke-width="4"/>
<text x="635.58" y="1294.6" font-size="18.5" text-anchor="end" transform="rotate(-45 635.58 1294.6)">FR 1565</text>
<line x1="679.36" y1="1266.9" x2="679.36" y2="1277.9" stroke="#000" stroke-width="4"/>
<text x="684.86" y="1294.6" font-size="18.5" text-anchor="end" transform="rotate(-45 684.86 1294.6)">BC 1173</text>
<line x1="728.64" y1="1266.9" x2="728.64" y2="1277.9" stroke="#000" stroke-width="4"/>
<text x="734.14" y="1294.6" font-size="18.5" text-anchor="end" transform="rotate(-45 734.14 1294.6)">BC 1169</text>
<line x1="777.92" y1="1266.9" x2="777.92" y2="1277.9" stroke="#000" stroke-width="4"/>
<text x="783.42" y="1294.6" font-size="18.5" text-anchor="end" transform="rotate(-45 783.42 1294.6)">EC 529</text>
<line x1="827.2" y1="1266.9" x2="827.2" y2="1277.9" stroke="#000" stroke-width="4"/>
<text x="832.7" y="1294.6" font-size="18.5" text-anchor="end" transform="rotate(-45 832.7 1294.6)">EC 944</text>
<line x1="876.48" y1="1266.9" x2="876.48" y2="1277.9" stroke="#000" stroke-width="4"/>
<text x="881.98" y="1294.6" font-size="18.5" text-anchor="end" transform="rotate(-45 881.98 1294.6)">FR 1221</text>
<line x1="925.76" y1="1266.9" x2="925.76" y2="1277.9" stroke="#000" stroke-width="4"/>
<text x="931.26" y="1294.6" font-size="18.5" text-anchor="end" transform="rotate(-45 931.26 1294.6)">UG 2626</text>
<text x="508.3" y="1376.8" font-size="20.7" text-anchor="middle">NHP ID</text>
<text x="15" y="1141.9" font-size="20.3" text-anchor="middle" transform="rotate(-90 15 1141.9)">Log<tspan font-size="15" dy="5">10</tspan><tspan dy="-5"> FFU/ml</tspan></text>
<line x1="1244.6" y1="1017.9" x2="1244.6" y2="1264.9" stroke="#000" stroke-width="1.8" stroke-dasharray="1.8 1.83"/>
<line x1="1293.88" y1="1017.9" x2="1293.88" y2="1264.9" stroke="#000" stroke-width="1.8" stroke-dasharray="1.8 1.83"/>
<line x1="1491" y1="1017.9" x2="1491" y2="1264.9" stroke="#000" stroke-width="1.8" stroke-dasharray="1.8 1.83"/>
<line x1="1638.84" y1="1017.9" x2="1638.84" y2="1264.9" stroke="#000" stroke-width="1.8" stroke-dasharray="1.8 1.83"/>
<line x1="1688.12" y1="1017.9" x2="1688.12" y2="1264.9" stroke="#000" stroke-width="1.8" stroke-dasharray="1.8 1.83"/>
<line x1="1835.96" y1="1017.9" x2="1835.96" y2="1264.9" stroke="#000" stroke-width="1.8" stroke-dasharray="1.8 1.83"/>
<line x1="1096.4" y1="1201.98" x2="1991.6" y2="1201.98" stroke="#000" stroke-width="3.2" stroke-dasharray="0 7.337" stroke-linecap="round"/>
<rect x="1104.8" y="1211.5" width="33.2" height="11" rx="5.5" fill="#000000"/>
<circle cx="1121.4" cy="1085.76" r="5.3" fill="#000000"/>
<circle cx="1125.4" cy="1091.25" r="5.3" fill="#000000"/>
<circle cx="1120.4" cy="1097.24" r="5.3" fill="#000000"/>
<circle cx="1121.4" cy="1114.21" r="5.3" fill="#000000"/>
<circle cx="1123.4" cy="1118.2" r="5.3" fill="#000000"/>
<circle cx="1121.4" cy="1139.66" r="5.3" fill="#000000"/>
<circle cx="1121.4" cy="1155.12" r="5.3" fill="#000000"/>
<circle cx="1121.4" cy="1168.1" r="5.3" fill="#000000"/>
<circle cx="1121.4" cy="1202.53" r="5.3" fill="#000000"/>
<rect x="1154.08" y="1211.5" width="33.2" height="11" rx="5.5" fill="#000000"/>
<circle cx="1170.68" cy="1089.26" r="5.3" fill="#000000"/>
<circle cx="1170.68" cy="1097.24" r="5.3" fill="#000000"/>
<circle cx="1170.68" cy="1102.23" r="5.3" fill="#000000"/>
<circle cx="1167.68" cy="1110.21" r="5.3" fill="#000000"/>
<circle cx="1176.18" cy="1110.21" r="5.3" fill="#000000"/>
<circle cx="1165.18" cy="1117.7" r="5.3" fill="#000000"/>
<circle cx="1174.68" cy="1117.7" r="5.3" fill="#000000"/>
<circle cx="1170.68" cy="1122.19" r="5.3" fill="#000000"/>
<circle cx="1170.68" cy="1127.68" r="5.3" fill="#000000"/>
<circle cx="1170.68" cy="1132.17" r="5.3" fill="#000000"/>
<circle cx="1169.68" cy="1136.16" r="5.3" fill="#000000"/>
<circle cx="1170.68" cy="1141.15" r="5.3" fill="#000000"/>
<circle cx="1165.68" cy="1146.14" r="5.3" fill="#000000"/>
<circle cx="1176.68" cy="1146.14" r="5.3" fill="#000000"/>
<circle cx="1165.18" cy="1153.13" r="5.3" fill="#000000"/>
<circle cx="1176.18" cy="1152.13" r="5.3" fill="#000000"/>
<circle cx="1170.68" cy="1157.12" r="5.3" fill="#000000"/>
<circle cx="1170.68" cy="1162.11" r="5.3" fill="#000000"/>
<circle cx="1166.68" cy="1166.6" r="5.3" fill="#000000"/>
<circle cx="1175.18" cy="1166.6" r="5.3" fill="#000000"/>
<circle cx="1169.18" cy="1172.09" r="5.3" fill="#000000"/>
<circle cx="1169.18" cy="1177.58" r="5.3" fill="#000000"/>
<circle cx="1176.18" cy="1177.58" r="5.3" fill="#000000"/>
<circle cx="1165.68" cy="1187.06" r="5.3" fill="#000000"/>
<circle cx="1174.18" cy="1187.06" r="5.3" fill="#000000"/>
<circle cx="1170.68" cy="1202.03" r="5.3" fill="#000000"/>
<rect x="1203.36" y="1211.5" width="33.2" height="11" rx="5.5" fill="#000000"/>
<circle cx="1219.96" cy="1137.16" r="5.3" fill="#000000"/>
<circle cx="1219.96" cy="1139.66" r="5.3" fill="#000000"/>
<rect x="1253.14" y="1211.7" width="32.2" height="10.6" fill="#73009a"/>
<rect x="1263.64" y="1105.36" width="11.2" height="17.19" fill="#73009a"/>
<rect x="1263.64" y="1173.73" width="11.2" height="18.68" fill="#73009a"/>
<polygon points="1306.52,1211.7 1330.52,1211.7 1335.02,1222.4 1302.02,1222.4" fill="#008000"/>
<polygon points="1355.8,1211.7 1379.8,1211.7 1384.3,1222.4 1351.3,1222.4" fill="#008000"/>
<polygon points="1405.08,1211.7 1429.08,1211.7 1433.58,1222.4 1400.58,1222.4" fill="#008000"/>
<polygon points="1454.36,1211.7 1478.36,1211.7 1482.86,1222.4 1449.86,1222.4" fill="#008000"/>
<polygon points="1499.04,1211.6 1532.24,1211.6 1527.64,1222.4 1503.64,1222.4" fill="#ff0000"/>
<polygon points="1515.64,1176.82 1521.14,1165.87 1510.14,1165.87" fill="#ff0000"/>
<polygon points="1515.64,1207.76 1521.14,1196.81 1510.14,1196.81" fill="#ff0000"/>
<polygon points="1548.32,1211.6 1581.52,1211.6 1576.92,1222.4 1552.92,1222.4" fill="#ff0000"/>
<polygon points="1564.92,1175.82 1570.42,1164.87 1559.42,1164.87" fill="#ff0000"/>
<polygon points="1564.92,1182.31 1570.42,1171.36 1559.42,1171.36" fill="#ff0000"/>
<polygon points="1564.92,1191.79 1570.42,1180.84 1559.42,1180.84" fill="#ff0000"/>
<polygon points="1564.92,1207.26 1570.42,1196.31 1559.42,1196.31" fill="#ff0000"/>
<polygon points="1597.6,1211.6 1630.8,1211.6 1626.2,1222.4 1602.2,1222.4" fill="#ff0000"/>
<polygon points="1614.2,1100.47 1619.7,1089.52 1608.7,1089.52" fill="#ff0000"/>
<polygon points="1614.2,1183.3 1619.7,1172.35 1608.7,1172.35" fill="#ff0000"/>
<polygon points="1614.2,1192.79 1619.7,1181.84 1608.7,1181.84" fill="#ff0000"/>
<polygon points="1646.98,1217 1652.38,1211.6 1674.58,1211.6 1679.98,1217 1674.58,1222.4 1652.38,1222.4" fill="#a00000"/>
<polygon points="1663.48,1092.84 1668.88,1098.24 1663.48,1103.64 1658.08,1098.24" fill="#a00000"/>
<polygon points="1663.48,1136.75 1668.88,1142.15 1663.48,1147.55 1658.08,1142.15" fill="#a00000"/>
<polygon points="1662.48,1144.73 1667.88,1150.13 1662.48,1155.53 1657.08,1150.13" fill="#a00000"/>
<polygon points="1659.08,1151.22 1664.48,1156.62 1659.08,1162.02 1653.68,1156.62" fill="#a00000"/>
<polygon points="1665.98,1153.22 1671.38,1158.62 1665.98,1164.02 1660.58,1158.62" fill="#a00000"/>
<polygon points="1668.48,1157.21 1673.88,1162.61 1668.48,1168.01 1663.08,1162.61" fill="#a00000"/>
<polygon points="1658.08,1155.21 1663.48,1160.61 1658.08,1166.01 1652.68,1160.61" fill="#a00000"/>
<polygon points="1663.48,1161.2 1668.88,1166.6 1663.48,1172 1658.08,1166.6" fill="#a00000"/>
<polygon points="1663.48,1166.69 1668.88,1172.09 1663.48,1177.49 1658.08,1172.09" fill="#a00000"/>
<polygon points="1663.48,1172.68 1668.88,1178.08 1663.48,1183.48 1658.08,1178.08" fill="#a00000"/>
<polygon points="1658.08,1181.66 1663.48,1187.06 1658.08,1192.46 1652.68,1187.06" fill="#a00000"/>
<polygon points="1668.38,1181.66 1673.78,1187.06 1668.38,1192.46 1662.98,1187.06" fill="#a00000"/>
<polygon points="1663.48,1196.63 1668.88,1202.03 1663.48,1207.43 1658.08,1202.03" fill="#a00000"/>
<polygon points="1696.96,1217.3 1699.56,1212.9 1725.96,1212.9 1728.56,1217.3 1725.96,1221.6 1699.56,1221.6" fill="#ff6600"/>
<polygon points="1746.24,1217.3 1748.84,1212.9 1775.24,1212.9 1777.84,1217.3 1775.24,1221.6 1748.84,1221.6" fill="#ff6600"/>
<polygon points="1795.52,1217.3 1798.12,1212.9 1824.52,1212.9 1827.12,1217.3 1824.52,1221.6 1798.12,1221.6" fill="#ff6600"/>
<polygon points="1848.3,1211.8 1872.9,1211.8 1873.8,1214.7 1876.8,1215.6 1874.6,1217.6 1875.2,1221.6 1846,1221.6 1846.6,1217.6 1844.4,1215.6 1847.4,1214.7" fill="#0000c4"/>
<polygon points="1897.58,1211.8 1922.18,1211.8 1923.08,1214.7 1926.08,1215.6 1923.88,1217.6 1924.48,1221.6 1895.28,1221.6 1895.88,1217.6 1893.68,1215.6 1896.68,1214.7" fill="#0000c4"/>
<polygon points="1946.86,1211.8 1971.46,1211.8 1972.36,1214.7 1975.36,1215.6 1973.16,1217.6 1973.76,1221.6 1944.56,1221.6 1945.16,1217.6 1942.96,1215.6 1945.96,1214.7" fill="#0000c4"/>
<line x1="1088.9" y1="1015.6" x2="1088.9" y2="1266.9" stroke="#000" stroke-width="4"/>
<line x1="1077.9" y1="1266.9" x2="1994.6" y2="1266.9" stroke="#000" stroke-width="4"/>
<line x1="1077.9" y1="1266.9" x2="1088.9" y2="1266.9" stroke="#000" stroke-width="4"/>
<text x="1074.9" y="1273.5" font-size="18.5" text-anchor="end">1</text>
<line x1="1077.9" y1="1217" x2="1088.9" y2="1217" stroke="#000" stroke-width="4"/>
<text x="1074.9" y="1223.6" font-size="18.5" text-anchor="end">2</text>
<line x1="1077.9" y1="1167.1" x2="1088.9" y2="1167.1" stroke="#000" stroke-width="4"/>
<text x="1074.9" y="1173.7" font-size="18.5" text-anchor="end">3</text>
<line x1="1077.9" y1="1117.2" x2="1088.9" y2="1117.2" stroke="#000" stroke-width="4"/>
<text x="1074.9" y="1123.8" font-size="18.5" text-anchor="end">4</text>
<line x1="1077.9" y1="1067.3" x2="1088.9" y2="1067.3" stroke="#000" stroke-width="4"/>
<text x="1074.9" y="1073.9" font-size="18.5" text-anchor="end">5</text>
<line x1="1077.9" y1="1017.4" x2="1088.9" y2="1017.4" stroke="#000" stroke-width="4"/>
<text x="1074.9" y="1024" font-size="18.5" text-anchor="end">6</text>
<line x1="1121.4" y1="1266.9" x2="1121.4" y2="1277.9" stroke="#000" stroke-width="4"/>
<text x="1126.9" y="1294.6" font-size="18.5" text-anchor="end" transform="rotate(-45 1126.9 1294.6)">NV 289</text>
<line x1="1170.68" y1="1266.9" x2="1170.68" y2="1277.9" stroke="#000" stroke-width="4"/>
<text x="1176.18" y="1294.6" font-size="18.5" text-anchor="end" transform="rotate(-45 1176.18 1294.6)">UG 171</text>
<line x1="1219.96" y1="1266.9" x2="1219.96" y2="1277.9" stroke="#000" stroke-width="4"/>
<text x="1225.46" y="1294.6" font-size="18.5" text-anchor="end" transform="rotate(-45 1225.46 1294.6)">NV 259</text>
<line x1="1269.24" y1="1266.9" x2="1269.24" y2="1277.9" stroke="#000" stroke-width="4"/>
<text x="1274.74" y="1294.6" font-size="18.5" text-anchor="end" transform="rotate(-45 1274.74 1294.6)">BC 407</text>
<line x1="1318.52" y1="1266.9" x2="1318.52" y2="1277.9" stroke="#000" stroke-width="4"/>
<text x="1324.02" y="1294.6" font-size="18.5" text-anchor="end" transform="rotate(-45 1324.02 1294.6)">BC 116A</text>
<line x1="1367.8" y1="1266.9" x2="1367.8" y2="1277.9" stroke="#000" stroke-width="4"/>
<text x="1373.3" y="1294.6" font-size="18.5" text-anchor="end" transform="rotate(-45 1373.3 1294.6)">FR 469A</text>
<line x1="1417.08" y1="1266.9" x2="1417.08" y2="1277.9" stroke="#000" stroke-width="4"/>
<text x="1422.58" y="1294.6" font-size="18.5" text-anchor="end" transform="rotate(-45 1422.58 1294.6)">BC 167</text>
<line x1="1466.36" y1="1266.9" x2="1466.36" y2="1277.9" stroke="#000" stroke-width="4"/>
<text x="1471.86" y="1294.6" font-size="18.5" text-anchor="end" transform="rotate(-45 1471.86 1294.6)">FR 840</text>
<line x1="1515.64" y1="1266.9" x2="1515.64" y2="1277.9" stroke="#000" stroke-width="4"/>
<text x="1521.14" y="1294.6" font-size="18.5" text-anchor="end" transform="rotate(-45 1521.14 1294.6)">BC 940</text>
<line x1="1564.92" y1="1266.9" x2="1564.92" y2="1277.9" stroke="#000" stroke-width="4"/>
<text x="1570.42" y="1294.6" font-size="18.5" text-anchor="end" transform="rotate(-45 1570.42 1294.6)">MB 1433</text>
<line x1="1614.2" y1="1266.9" x2="1614.2" y2="1277.9" stroke="#000" stroke-width="4"/>
<text x="1619.7" y="1294.6" font-size="18.5" text-anchor="end" transform="rotate(-45 1619.7 1294.6)">BC 838</text>
<line x1="1663.48" y1="1266.9" x2="1663.48" y2="1277.9" stroke="#000" stroke-width="4"/>
<text x="1668.98" y="1294.6" font-size="18.5" text-anchor="end" transform="rotate(-45 1668.98 1294.6)">FR 1565</text>
<line x1="1712.76" y1="1266.9" x2="1712.76" y2="1277.9" stroke="#000" stroke-width="4"/>
<text x="1718.26" y="1294.6" font-size="18.5" text-anchor="end" transform="rotate(-45 1718.26 1294.6)">BC 1173</text>
<line x1="1762.04" y1="1266.9" x2="1762.04" y2="1277.9" stroke="#000" stroke-width="4"/>
<text x="1767.54" y="1294.6" font-size="18.5" text-anchor="end" transform="rotate(-45 1767.54 1294.6)">BC 1169</text>
<line x1="1811.32" y1="1266.9" x2="1811.32" y2="1277.9" stroke="#000" stroke-width="4"/>
<text x="1816.82" y="1294.6" font-size="18.5" text-anchor="end" transform="rotate(-45 1816.82 1294.6)">EC 529</text>
<line x1="1860.6" y1="1266.9" x2="1860.6" y2="1277.9" stroke="#000" stroke-width="4"/>
<text x="1866.1" y="1294.6" font-size="18.5" text-anchor="end" transform="rotate(-45 1866.1 1294.6)">EC 944</text>
<line x1="1909.88" y1="1266.9" x2="1909.88" y2="1277.9" stroke="#000" stroke-width="4"/>
<text x="1915.38" y="1294.6" font-size="18.5" text-anchor="end" transform="rotate(-45 1915.38 1294.6)">FR 1221</text>
<line x1="1959.16" y1="1266.9" x2="1959.16" y2="1277.9" stroke="#000" stroke-width="4"/>
<text x="1964.66" y="1294.6" font-size="18.5" text-anchor="end" transform="rotate(-45 1964.66 1294.6)">UG 2626</text>
<text x="1541.7" y="1376.8" font-size="20.7" text-anchor="middle">NHP ID</text>
<text x="1048.9" y="1141.9" font-size="20.3" text-anchor="middle" transform="rotate(-90 1048.9 1141.9)">Log<tspan font-size="15" dy="5">10</tspan><tspan dy="-5"> FFU/ml</tspan></text>
</svg></body></html>
